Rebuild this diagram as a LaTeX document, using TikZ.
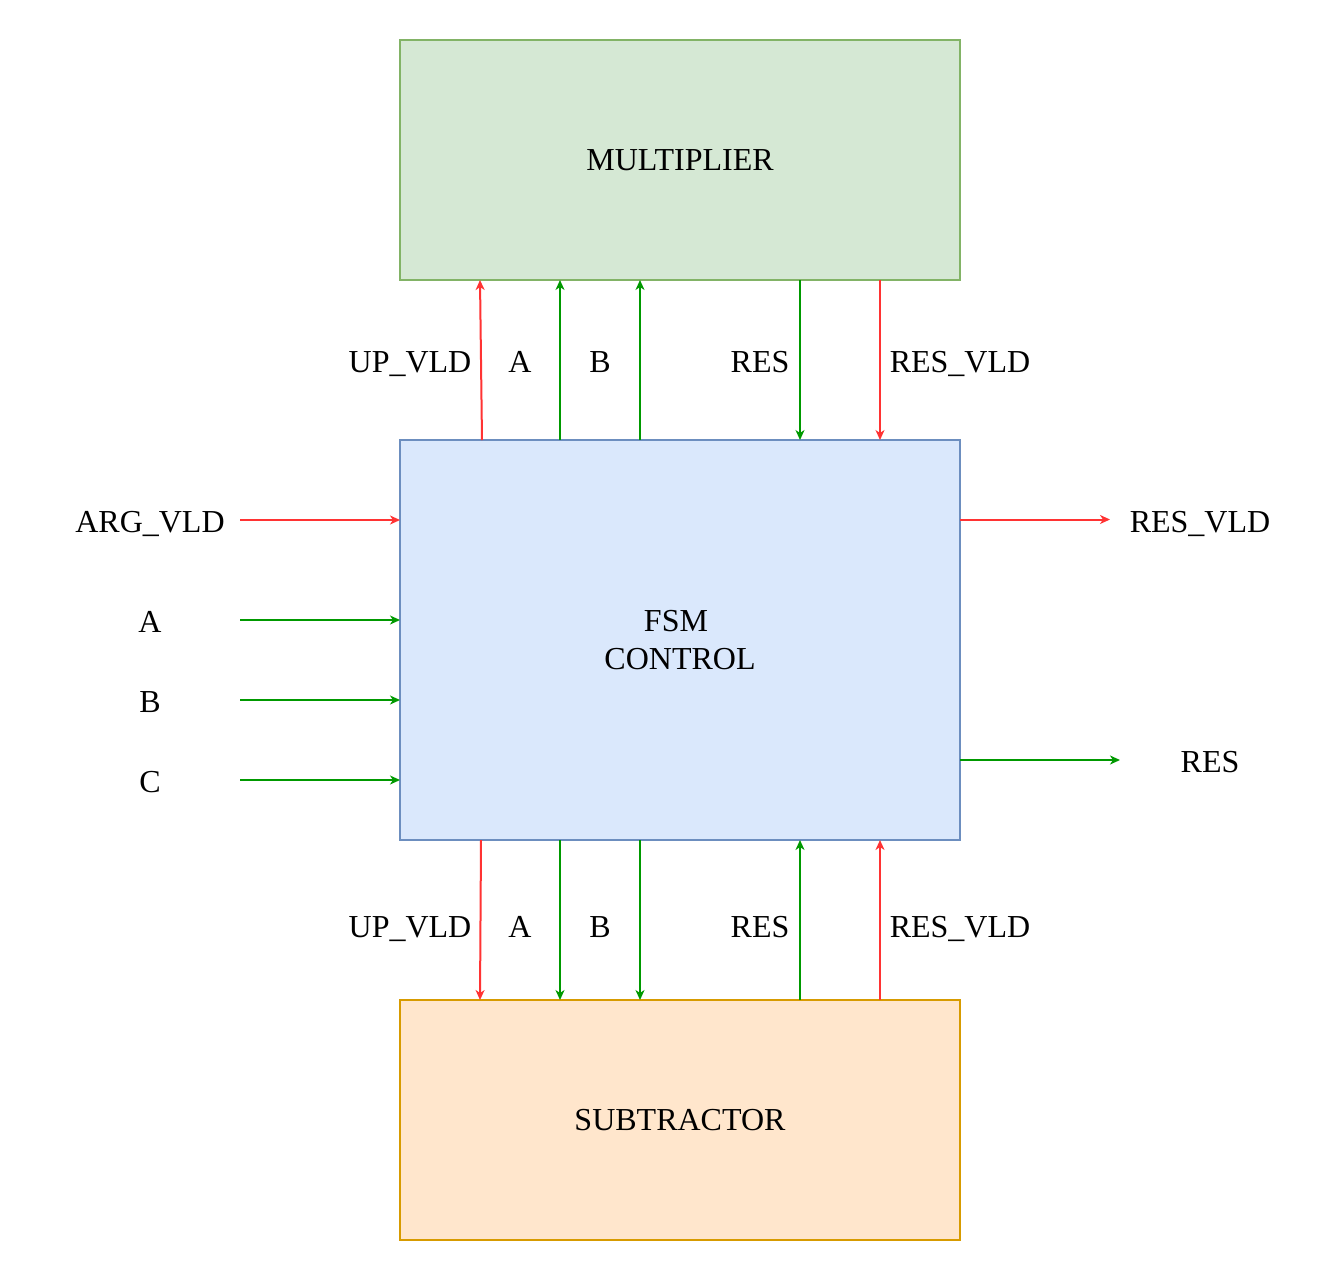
\documentclass[tikz,border=0pt]{standalone}
\usepackage{fontspec}
\setmainfont{Liberation Serif}
\usetikzlibrary{arrows.meta}
\definecolor{redc}{HTML}{FF3333}
\definecolor{greenc}{HTML}{009900}
\definecolor{mulfill}{HTML}{D5E8D4}
\definecolor{muldraw}{HTML}{82B366}
\definecolor{fsmfill}{HTML}{DAE8FC}
\definecolor{fsmdraw}{HTML}{6C8EBF}
\definecolor{subfill}{HTML}{FFE6CC}
\definecolor{subdraw}{HTML}{D79B00}
\tikzset{
  blockbox/.style={draw, line width=2pt, minimum width=560pt, inner sep=0pt, align=center, font=\fontsize{32}{38}\selectfont},
  lbl/.style={inner sep=0pt, anchor=base, font=\fontsize{32}{38}\selectfont},
  sig/.style={line width=2pt, -{Stealth[length=10pt,width=9pt,inset=3pt]}},
  redsig/.style={sig, draw=redc},
  greensig/.style={sig, draw=greenc},
}
\begin{document}
\begin{tikzpicture}[x=1pt,y=-1pt]
\useasboundingbox (0,0) rectangle (1320,1280);
% blocks
\node[blockbox, fill=mulfill, draw=muldraw, minimum height=240pt] (mul) at (680,160) {MULTIPLIER};
\node[blockbox, fill=fsmfill, draw=fsmdraw, minimum height=400pt] (fsm) at (680,640) {FSM\kern8pt\\CONTROL};
\node[blockbox, fill=subfill, draw=subdraw, minimum height=240pt] (sub) at (680,1120) {SUBTRACTOR};

% coordinates on block edges
\coordinate (ft1) at (482,440); \coordinate (mb1) at (480,280);
\coordinate (ft2) at (560,440); \coordinate (mb2) at (560,280);
\coordinate (ft3) at (640,440); \coordinate (mb3) at (640,280);
\coordinate (ft4) at (800,440); \coordinate (mb4) at (800,280);
\coordinate (ft5) at (880,440); \coordinate (mb5) at (880,280);

\coordinate (fb1) at (481,840); \coordinate (st1) at (480,1000);
\coordinate (fb2) at (560,840); \coordinate (st2) at (560,1000);
\coordinate (fb3) at (640,840); \coordinate (st3) at (640,1000);
\coordinate (fb4) at (800,840); \coordinate (st4) at (800,1000);
\coordinate (fb5) at (880,840); \coordinate (st5) at (880,1000);

% upper connectors
\draw[redsig] (ft1) -- (mb1);
\draw[greensig] (ft2) -- (mb2);
\draw[greensig] (ft3) -- (mb3);
\draw[greensig] (mb4) -- (ft4);
\draw[redsig] (mb5) -- (ft5);
\node[lbl] (lu1) at (410,372) {UP\_VLD};
\node[lbl] (lu2) at (520,372) {A};
\node[lbl] (lu3) at (600,372) {B};
\node[lbl] (lu4) at (760,372) {RES};
\node[lbl] (lu5) at (960,372) {RES\_VLD};

% lower connectors
\draw[redsig] (fb1) -- (st1);
\draw[greensig] (fb2) -- (st2);
\draw[greensig] (fb3) -- (st3);
\draw[greensig] (st4) -- (fb4);
\draw[redsig] (st5) -- (fb5);
\node[lbl] (ll1) at (410,937) {UP\_VLD};
\node[lbl] (ll2) at (520,937) {A};
\node[lbl] (ll3) at (600,937) {B};
\node[lbl] (ll4) at (760,937) {RES};
\node[lbl] (ll5) at (960,937) {RES\_VLD};

% left inputs
\node[lbl] (inarg) at (150,532) {ARG\_VLD};
\node[lbl] (ina) at (150,632) {A};
\node[lbl] (inb) at (150,712) {B};
\node[lbl] (inc) at (150,792) {C};
\coordinate (s1) at (240,520); \coordinate (e1) at (400,520);
\coordinate (s2) at (240,620); \coordinate (e2) at (400,620);
\coordinate (s3) at (240,700); \coordinate (e3) at (400,700);
\coordinate (s4) at (240,780); \coordinate (e4) at (400,780);
\draw[redsig] (s1) -- (e1);
\draw[greensig] (s2) -- (e2);
\draw[greensig] (s3) -- (e3);
\draw[greensig] (s4) -- (e4);

% right outputs
\node[lbl] (outvld) at (1200,532) {RES\_VLD};
\node[lbl] (outres) at (1210,772) {RES};
\coordinate (r1s) at (960,519.5); \coordinate (r1e) at (1110,519.5);
\coordinate (r2s) at (960,760); \coordinate (r2e) at (1120,760);
\draw[redsig] (r1s) -- (r1e);
\draw[greensig] (r2s) -- (r2e);
\end{tikzpicture}
\end{document}
